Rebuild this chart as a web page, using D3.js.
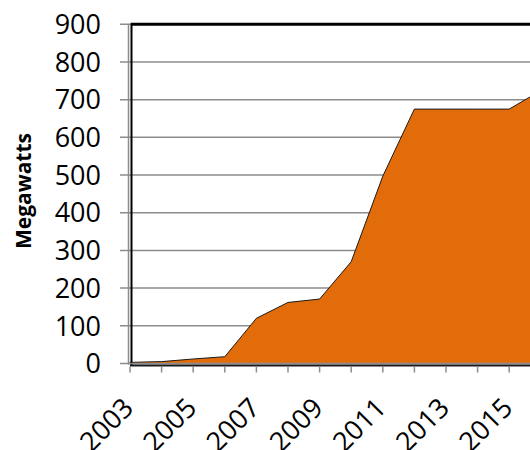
<!DOCTYPE html>
<html>
<head>
<meta charset="utf-8">
<title>Megawatts by year</title>
<style>
  body { margin: 0; background: #fff; }
  svg { display: block; }
  .tick-label { font-family: "Open Sans", sans-serif; font-size: 27px; fill: #000; }
</style>
<script src="https://cdnjs.cloudflare.com/ajax/libs/d3/7.8.5/d3.min.js"></script>
</head>
<body>
<div id="chart"></div>
<script>
  // values
  const years = [2003, 2004, 2005, 2006, 2007, 2008, 2009, 2010, 2011, 2012, 2013, 2014, 2015, 2016];
  const megawatts = [3, 5, 12, 18, 120, 162, 171, 270, 497, 675, 675, 675, 675, 724];
  const yTicks = [0, 100, 200, 300, 400, 500, 600, 700, 800, 900];
  const xLabelYears = [2003, 2005, 2007, 2009, 2011, 2013, 2015];

  const width = 530, height = 450;
  const plotLeft = 130, plotTop = 24.3, plotBottom = 363.5;
  const step = 31.6;

  const svg = d3.select('#chart').append('svg')
    .attr('width', width)
    .attr('height', height);

  // category axis: points sit on the tick marks, plot runs past the right edge
  const x = d3.scalePoint()
    .domain(years)
    .range([plotLeft, plotLeft + step * (years.length - 1)]);

  const y = d3.scaleLinear()
    .domain([0, 900])
    .range([plotBottom, plotTop]);

  // gridlines (with little ticks sticking out on the left)
  svg.append('g')
    .selectAll('line')
    .data(yTicks)
    .join('line')
      .attr('x1', 120)
      .attr('x2', width)
      .attr('y1', d => y(d))
      .attr('y2', d => y(d))
      .attr('stroke', '#8c8c8c')
      .attr('stroke-width', 1.5);

  // area
  const area = d3.area()
    .x((d, i) => x(years[i]))
    .y0(y(0))
    .y1(d => y(d));

  svg.append('path')
    .datum(megawatts)
    .attr('d', area)
    .attr('fill', '#e36c0a')
    .attr('stroke', '#1a1a1a')
    .attr('stroke-width', 1)
    .attr('stroke-linejoin', 'miter');

  // plot area border (top + left black)
  svg.append('line')
    .attr('x1', plotLeft + 1).attr('x2', width)
    .attr('y1', plotTop).attr('y2', plotTop)
    .attr('stroke', '#000').attr('stroke-width', 3);
  svg.append('line')
    .attr('x1', plotLeft + 1.5).attr('x2', plotLeft + 1.5)
    .attr('y1', plotTop - 1).attr('y2', plotBottom + 2)
    .attr('stroke', '#000').attr('stroke-width', 2);

  // y axis line (gray)
  svg.append('line')
    .attr('x1', plotLeft - 1.5).attr('x2', plotLeft - 1.5)
    .attr('y1', plotTop).attr('y2', plotBottom + 1)
    .attr('stroke', '#8c8c8c').attr('stroke-width', 1.5);

  // x axis: gray line + black line beneath
  svg.append('line')
    .attr('x1', plotLeft - 1.5).attr('x2', width)
    .attr('y1', plotBottom).attr('y2', plotBottom)
    .attr('stroke', '#8c8c8c').attr('stroke-width', 1.5);
  svg.append('line')
    .attr('x1', plotLeft).attr('x2', width)
    .attr('y1', plotBottom + 2).attr('y2', plotBottom + 2)
    .attr('stroke', '#1a1a1a').attr('stroke-width', 2);

  // x tick marks
  svg.append('g')
    .selectAll('line')
    .data(years)
    .join('line')
      .attr('x1', d => x(d))
      .attr('x2', d => x(d))
      .attr('y1', plotBottom + 3)
      .attr('y2', plotBottom + 9)
      .attr('stroke', '#8c8c8c')
      .attr('stroke-width', 1.5);

  // y tick labels
  svg.append('g')
    .selectAll('text')
    .data(yTicks)
    .join('text')
      .attr('class', 'tick-label')
      .attr('x', 101)
      .attr('y', d => y(d))
      .attr('dy', '0.36em')
      .attr('text-anchor', 'end')
      .text(d => d);

  // x tick labels, rotated
  svg.append('g')
    .selectAll('text')
    .data(xLabelYears)
    .join('text')
      .attr('class', 'tick-label')
      .attr('text-anchor', 'end')
      .attr('transform', d => `translate(${x(d) + 5}, ${plotBottom + 46}) rotate(-45)`)
      .text(d => d);

  // y axis title
  svg.append('text')
    .attr('transform', 'translate(31, 191) rotate(-90)')
    .attr('text-anchor', 'middle')
    .style('font-family', '"Open Sans", sans-serif')
    .style('font-weight', 'bold')
    .style('font-size', '21px')
    .text('Megawatts');
</script>
</body>
</html>
